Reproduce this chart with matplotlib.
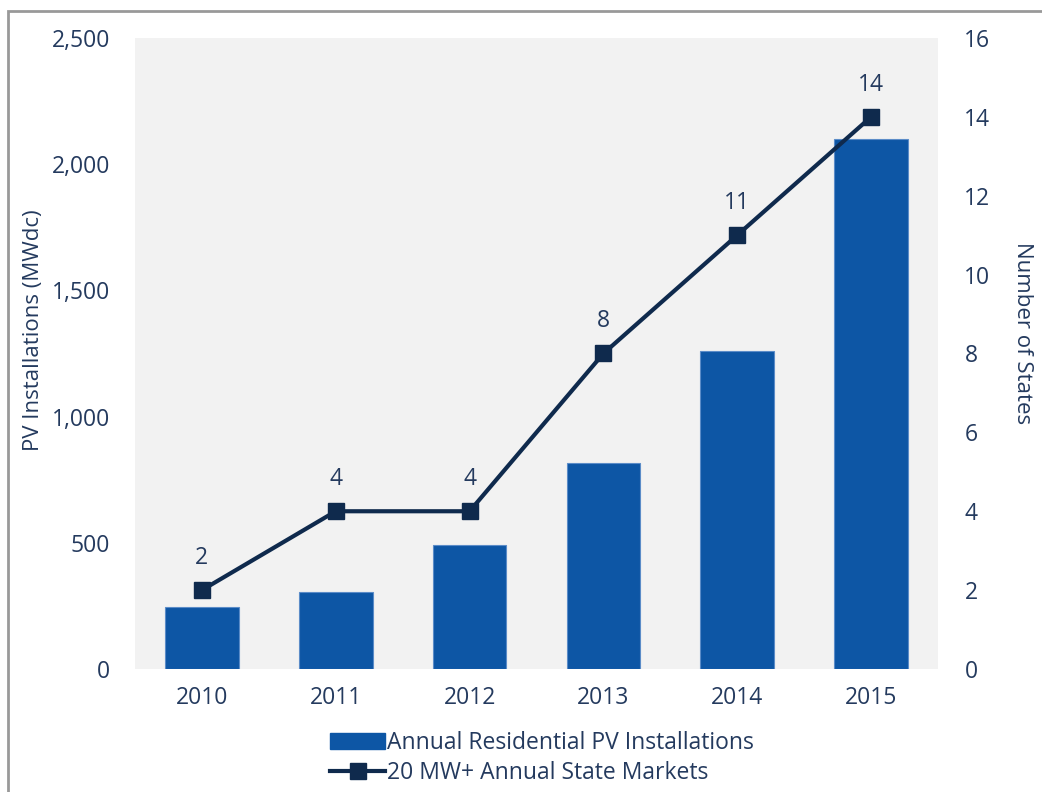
import matplotlib
matplotlib.use("Agg")
import matplotlib.pyplot as plt
from matplotlib.patches import Rectangle
from matplotlib.lines import Line2D
from matplotlib.ticker import FuncFormatter, MultipleLocator

years = ["2010", "2011", "2012", "2013", "2014", "2015"]
installations_mw = [245, 305, 493, 815, 1260, 2100]
state_markets = [2, 4, 4, 8, 11, 14]

bar_color = "#0D56A5"
bar_edge = "#5B8CC8"
line_color = "#0F2A4D"
text_color = "#243A5E"

plt.rcParams["font.family"] = ["Open Sans", "DejaVu Sans"]

fig = plt.figure(figsize=(10.42, 7.92), dpi=100)
W, H = 1042, 792
ax = fig.add_axes([135 / W, 1 - 669 / H, (938 - 135) / W, (669 - 38) / H])
ax.set_facecolor("#F2F2F2")

x = list(range(len(years)))
ax.bar(x, installations_mw, width=0.55, color=bar_color, edgecolor=bar_edge,
       linewidth=0.8, zorder=2)
ax.set_xlim(-0.5, len(years) - 0.5)
ax.set_ylim(0, 2500)
ax.yaxis.set_major_locator(MultipleLocator(500))
ax.yaxis.set_major_formatter(FuncFormatter(lambda v, p: f"{int(v):,}"))
ax.set_xticks(x)
ax.set_xticklabels(years)
ax.set_ylabel("PV Installations (MWdc)", fontsize=16, color=text_color,
              va="center")
ax.yaxis.set_label_coords(-0.127, 0.537)

ax2 = ax.twinx()
ax2.plot(x, state_markets, color=line_color, linewidth=3, marker="s",
         markersize=11, markerfacecolor=line_color, markeredgecolor=line_color,
         zorder=3)
ax2.set_ylim(0, 16)
ax2.yaxis.set_major_locator(MultipleLocator(2))
ax2.set_ylabel("Number of States", fontsize=16, color=text_color,
               rotation=270, va="center")
ax2.yaxis.set_label_coords(1.105, 0.532)
for xi, v in zip(x, state_markets):
    ax2.annotate(str(v), (xi, v), xytext=(0, 14.5), textcoords="offset points",
                 ha="center", va="bottom", fontsize=16.5, color=text_color)

for a in (ax, ax2):
    for s in a.spines.values():
        s.set_visible(False)
    a.tick_params(length=0, labelsize=16.5, colors=text_color)
ax.tick_params(axis="y", pad=18)
ax.tick_params(axis="x", pad=12)
ax2.tick_params(axis="y", pad=19)

handles = [Rectangle((0, 0), 1, 1, facecolor=bar_color, edgecolor=bar_color),
           Line2D([], [], color=line_color, linewidth=3, marker="s",
                  markersize=11)]
labels = ["Annual Residential PV Installations", "20 MW+ Annual State Markets"]
leg = fig.legend(handles, labels, loc="upper left",
                 bbox_to_anchor=(330 / W, 1 - 731 / H), frameon=False,
                 fontsize=16.5, handlelength=2.4, handleheight=0.7,
                 handletextpad=0.1, labelspacing=0.28, borderpad=0,
                 borderaxespad=0)
for t in leg.get_texts():
    t.set_color(text_color)

# outer frame
fig.add_artist(Rectangle((8 / W, -0.01), 1.0, 1 - 11 / H + 0.01,
                         transform=fig.transFigure, fill=False,
                         edgecolor="#999999", linewidth=2, clip_on=False))

fig.savefig("out.png", dpi=100, facecolor="white")
